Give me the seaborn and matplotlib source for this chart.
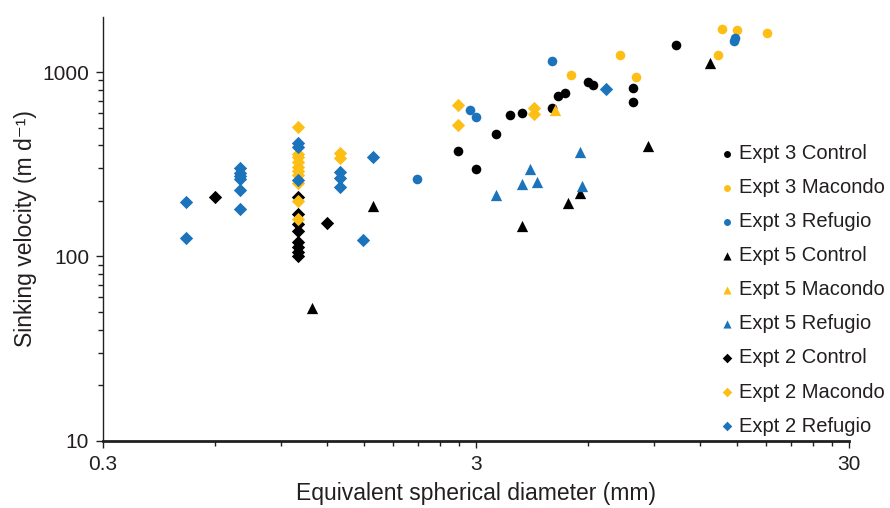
import matplotlib
matplotlib.use("Agg")
import matplotlib.pyplot as plt
import matplotlib.ticker as mticker
import seaborn as sns

# %% data (x = diameter mm, y = sinking velocity m/d)
e3_control_x = [2.68, 3.0, 3.39, 3.70, 3.99, 4.8, 4.98, 5.2, 5.99, 6.18, 7.91, 7.91, 10.3]
e3_control_y = [373, 298, 461, 585, 600, 638, 741, 769, 883, 850, 819, 688, 1400]

e3_macondo_x = [5.39, 7.3, 8.05, 13.4, 13.7, 15.0, 18.1]
e3_macondo_y = [963, 1236, 939, 1236, 1710, 1689, 1627]

e3_refugio_x = [4.8, 2.89, 3.0, 2.08, 14.75, 14.9]
e3_refugio_y = [1147, 622, 570, 263, 1472, 1529]

e5_control_x = [1.09, 1.59, 3.99, 5.29, 5.70, 8.68, 12.7]
e5_control_y = [52.6, 188, 146, 195, 221, 397, 1119]

e5_macondo_x = [4.88]
e5_macondo_y = [625]

e5_refugio_x = [3.39, 3.99, 4.19, 4.37, 5.70, 5.77]
e5_refugio_y = [215, 248, 298, 253, 368, 241]

e2_control_x = [0.6, 1.2, 1.0, 1.0, 1.0, 1.0, 1.0, 1.0, 1.0, 1.0]
e2_control_y = [210, 152, 210, 170, 150, 137, 120, 113, 106, 101]

e2_macondo_x = [1.0, 1.0, 1.0, 1.0, 1.0, 1.0, 1.0, 1.0, 1.0, 1.0,
                1.3, 1.3, 2.68, 2.68, 4.29, 4.29]
e2_macondo_y = [503, 360, 345, 325, 305, 290, 275, 250, 200, 160,
                364, 342, 662, 516, 638, 592]

e2_refugio_x = [0.5, 0.5, 0.7, 0.7, 0.7, 0.7, 0.7, 0.7, 1.0, 1.0, 1.0,
                1.3, 1.3, 1.3, 1.59, 1.49, 6.69]
e2_refugio_y = [197, 126, 300, 285, 272, 262, 229, 180, 412, 392, 260,
                287, 266, 238, 346, 123, 809]

labels = ["Expt 3 Control", "Expt 3 Macondo", "Expt 3 Refugio",
          "Expt 5 Control", "Expt 5 Macondo", "Expt 5 Refugio",
          "Expt 2 Control", "Expt 2 Macondo", "Expt 2 Refugio"]

xs = [e3_control_x, e3_macondo_x, e3_refugio_x,
      e5_control_x, e5_macondo_x, e5_refugio_x,
      e2_control_x, e2_macondo_x, e2_refugio_x]
ys = [e3_control_y, e3_macondo_y, e3_refugio_y,
      e5_control_y, e5_macondo_y, e5_refugio_y,
      e2_control_y, e2_macondo_y, e2_refugio_y]

# %% styling
black = "#000000"
yellow = "#FDBF16"
blue = "#1A73BB"
colors = [black, yellow, blue] * 3
markers = ["o"] * 3 + ["^"] * 3 + ["D"] * 3
sizes = [48] * 3 + [66] * 3 + [46] * 3

sns.set_style("ticks")
plt.rcParams["font.family"] = ["Liberation Sans", "DejaVu Sans"]
text_color = "#231F20"

fig = plt.figure(figsize=(8.9, 5.08), dpi=100)
ax = fig.add_axes([0.1157, 0.132, 0.838, 0.8355])

for x, y, c, m, s, lab in zip(xs, ys, colors, markers, sizes, labels):
    sns.scatterplot(x=x, y=y, color=c, marker=m, s=s, linewidth=0,
                    label=lab, ax=ax)

# %% axes
ax.set_xscale("log")
ax.set_yscale("log")
ax.set_xlim(0.3, 30)
ax.set_ylim(10, 2000)

ax.xaxis.set_major_locator(mticker.FixedLocator([0.3, 3, 30]))
ax.xaxis.set_major_formatter(mticker.FixedFormatter(["0.3", "3", "30"]))
ax.xaxis.set_minor_locator(mticker.FixedLocator(
    [0.3 * k for k in range(2, 10)] + [3 * k for k in range(2, 10)]))
ax.xaxis.set_minor_formatter(mticker.NullFormatter())

ax.yaxis.set_major_locator(mticker.FixedLocator([10, 100, 1000]))
ax.yaxis.set_major_formatter(mticker.FixedFormatter(["10", "100", "1000"]))
ax.yaxis.set_minor_locator(mticker.FixedLocator(
    [10 * k for k in range(2, 10)] + [100 * k for k in range(2, 10)]))
ax.yaxis.set_minor_formatter(mticker.NullFormatter())

ax.tick_params(axis="both", which="major", length=5, width=1,
               labelsize=15, colors=text_color, pad=5)
ax.tick_params(axis="both", which="minor", length=3.5, width=1,
               colors=text_color)

sns.despine(ax=ax)
ax.spines["left"].set_linewidth(1)
ax.spines["bottom"].set_linewidth(2)
ax.spines["left"].set_color(text_color)
ax.spines["bottom"].set_color(text_color)

ax.set_xlabel("Equivalent spherical diameter (mm)", fontsize=16.5,
              color=text_color, labelpad=6)
ax.set_ylabel("Sinking velocity (m d\u207b\u00b9)", fontsize=16.5,
              color=text_color, labelpad=4)

# %% legend
handles, labs = ax.get_legend_handles_labels()
leg = ax.legend(handles, labs, loc="upper left", bbox_to_anchor=(0.828, 0.70),
                frameon=False, fontsize=14.5, markerscale=0.72,
                handlelength=0.6, handletextpad=0.3, labelspacing=0.75,
                borderpad=0, borderaxespad=0)
for t in leg.get_texts():
    t.set_color(text_color)

fig.savefig("out.png", dpi=100)
